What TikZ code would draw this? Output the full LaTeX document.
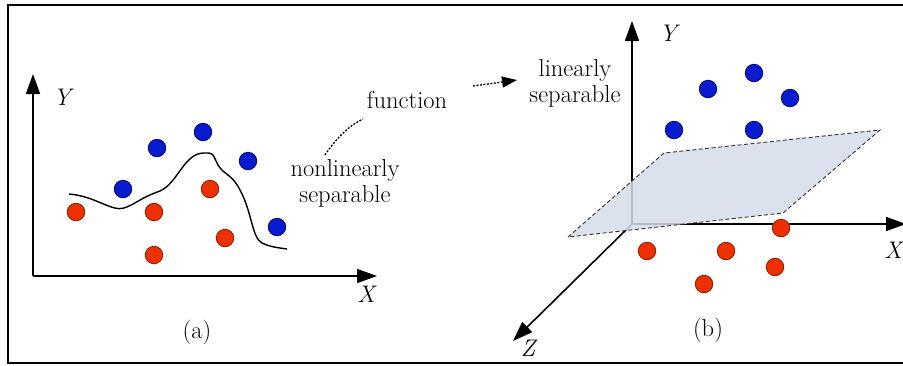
\documentclass[tikz,border=0pt]{standalone}
\usetikzlibrary{arrows.meta}
\definecolor{bluedot}{HTML}{0A1ACF}
\definecolor{bluedotedge}{HTML}{000C70}
\definecolor{reddot}{HTML}{EE3000}
\definecolor{reddotedge}{HTML}{8A1A00}
\definecolor{planefill}{HTML}{D5DDEA}
\begin{document}
\begin{tikzpicture}[x=1pt,y=-1pt,
  txt/.style={font=\fontsize{24.5}{26}\selectfont, inner sep=0pt, align=center},
  axlab/.style={font=\fontsize{24}{26}\selectfont\itshape, inner sep=0pt},
  axis/.style={line width=1.6pt, -{Triangle[length=20pt,width=14pt]}},
  bdot/.style={circle, minimum size=17.5pt, inner sep=0pt, fill=bluedot, draw=bluedotedge, line width=0.8pt},
  rdot/.style={circle, minimum size=17.5pt, inner sep=0pt, fill=reddot, draw=reddotedge, line width=0.8pt},
  dotted link/.style={line width=1.3pt, dash pattern=on 2pt off 1.5pt},
]
\useasboundingbox (0,0) rectangle (903,365);
% frame
\draw[line width=2.5pt] (920,5) -- (8,5) -- (8,363) -- (920,363);

% ---------- panel (a) ----------
\coordinate (oa) at (33,276);
\coordinate (ya) at (33,74);
\coordinate (xa) at (377,276);
\draw[axis] (oa) -- (ya);
\draw[axis] (oa) -- (xa);
\node[axlab] (Ya) at (62,97) {Y};
\node[axlab] (Xa) at (366,294) {X};
\node[txt] (capa) at (197,332) {(a)};

\draw[line width=1.4pt] (69,194) .. controls (95,196) and (112,212) .. (124,208)
  .. controls (136,204) and (140,198) .. (160,191)
  .. controls (178,183) and (184,153) .. (204,153)
  .. controls (214,153) and (212,153) .. (218,165)
  .. controls (224,175) and (232,174) .. (240,190)
  .. controls (252,212) and (252,238) .. (262,243)
  .. controls (270,247) and (280,248) .. (287,249);

\node[bdot] (b1) at (123,189) {};
\node[bdot] (b2) at (157,148) {};
\node[bdot] (b3) at (203,132) {};
\node[bdot] (b4) at (248,161) {};
\node[bdot] (b5) at (277,227) {};
\node[rdot] (r1) at (76,212) {};
\node[rdot] (r2) at (154,212) {};
\node[rdot] (r3) at (210,189) {};
\node[rdot] (r4) at (225,238) {};
\node[rdot] (r5) at (154,255) {};

\node[txt] (fun) at (407,100) {function};
\node[txt] (nonlin) at (345,183) {nonlinearly\\separable};
\coordinate (c1) at (325,155);
\coordinate (c2) at (363,119);
\draw[dotted link] (c1) .. controls (335,140) and (348,126) .. (c2);
\coordinate (d1) at (473,86);
\coordinate (d2) at (517,80);
\draw[dotted link, -{Triangle[length=15pt,width=11pt]}] (d1) -- (d2);
\node[txt] (lin) at (575,83) {linearly\\separable};

% ---------- panel (b) ----------
\coordinate (ob) at (632,224);
\coordinate (yb) at (632,21);
\coordinate (xb) at (906,224);
\coordinate (zb) at (513,341);
\draw[axis] (ob) -- (yb);
\draw[axis] (ob) -- (xb);
\draw[axis] (ob) -- (zb);
\node[axlab] (Yb) at (668,33) {Y};
\node[axlab] (Xb) at (893,250) {X};
\node[axlab] (Zb) at (528,348) {Z};
\node[txt] (capb) at (708,330) {(b)};

\fill[planefill, fill opacity=0.85] (568,237) -- (664,153) -- (880,130) -- (783,213) -- cycle;
\draw[line width=0.9pt, dash pattern=on 4pt off 2.5pt, draw=black!80] (568,237) -- (664,153) -- (880,130) -- (783,213) -- cycle;

\node[bdot] (b6) at (708,89) {};
\node[bdot] (b7) at (754,73) {};
\node[bdot] (b8) at (790,98) {};
\node[bdot] (b9) at (674,130) {};
\node[bdot] (b10) at (754,130) {};
\node[rdot] (r6) at (781,228) {};
\node[rdot] (r7) at (647,251) {};
\node[rdot] (r8) at (726,251) {};
\node[rdot] (r9) at (775,267) {};
\node[rdot] (r10) at (704,284) {};
\end{tikzpicture}
\end{document}
